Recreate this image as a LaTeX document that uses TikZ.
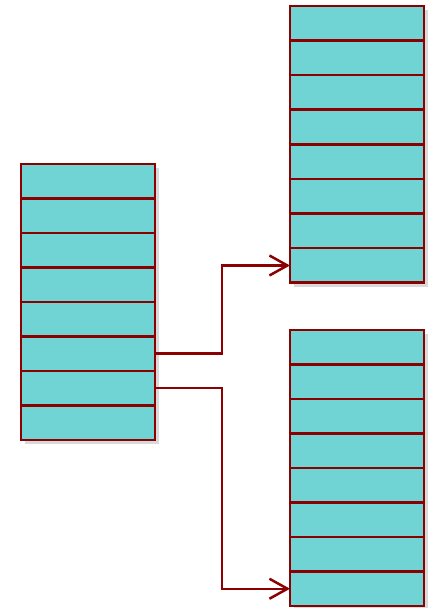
\documentclass[tikz,border=0pt]{standalone}
\usepackage{tikz}
\usetikzlibrary{arrows.meta,shadows}
\usepackage{xcolor}
\definecolor{cellfill}{HTML}{70D4D4}
\definecolor{cellline}{HTML}{8B0000}

\tikzset{
  cell/.style={rectangle, draw=cellline, fill=cellfill, line width=0.05cm,
    minimum width=2.68cm, minimum height=0.69cm, inner sep=0pt, outer sep=0pt,
    drop shadow={shadow xshift=0.07cm, shadow yshift=-0.08cm, opacity=0.3}},
  conn/.style={draw=cellline, line width=0.05cm,
    -{Straight Barb[length=3.6mm,width=4mm,line width=0.05cm]}}
}

\begin{document}
\begin{tikzpicture}
  \useasboundingbox (0,0) rectangle (8.58,12.16);
  % left stack
  \foreach \i in {1,...,8}
    \node[cell] (L\i) at (1.76, 8.88-0.69*\i+0.345) {};
  % top right stack
  \foreach \i in {1,...,8}
    \node[cell] (T\i) at (7.14, 12.04-0.692*\i+0.346) {};
  % bottom right stack
  \foreach \i in {1,...,8}
    \node[cell] (B\i) at (7.14, 5.56-0.69*\i+0.345) {};
  \draw[conn] (L6.east) -- ++(1.34,0) |- (T8.west);
  \draw[conn] (L7.east) -- ++(1.34,0) |- (B8.west);
\end{tikzpicture}
\end{document}
